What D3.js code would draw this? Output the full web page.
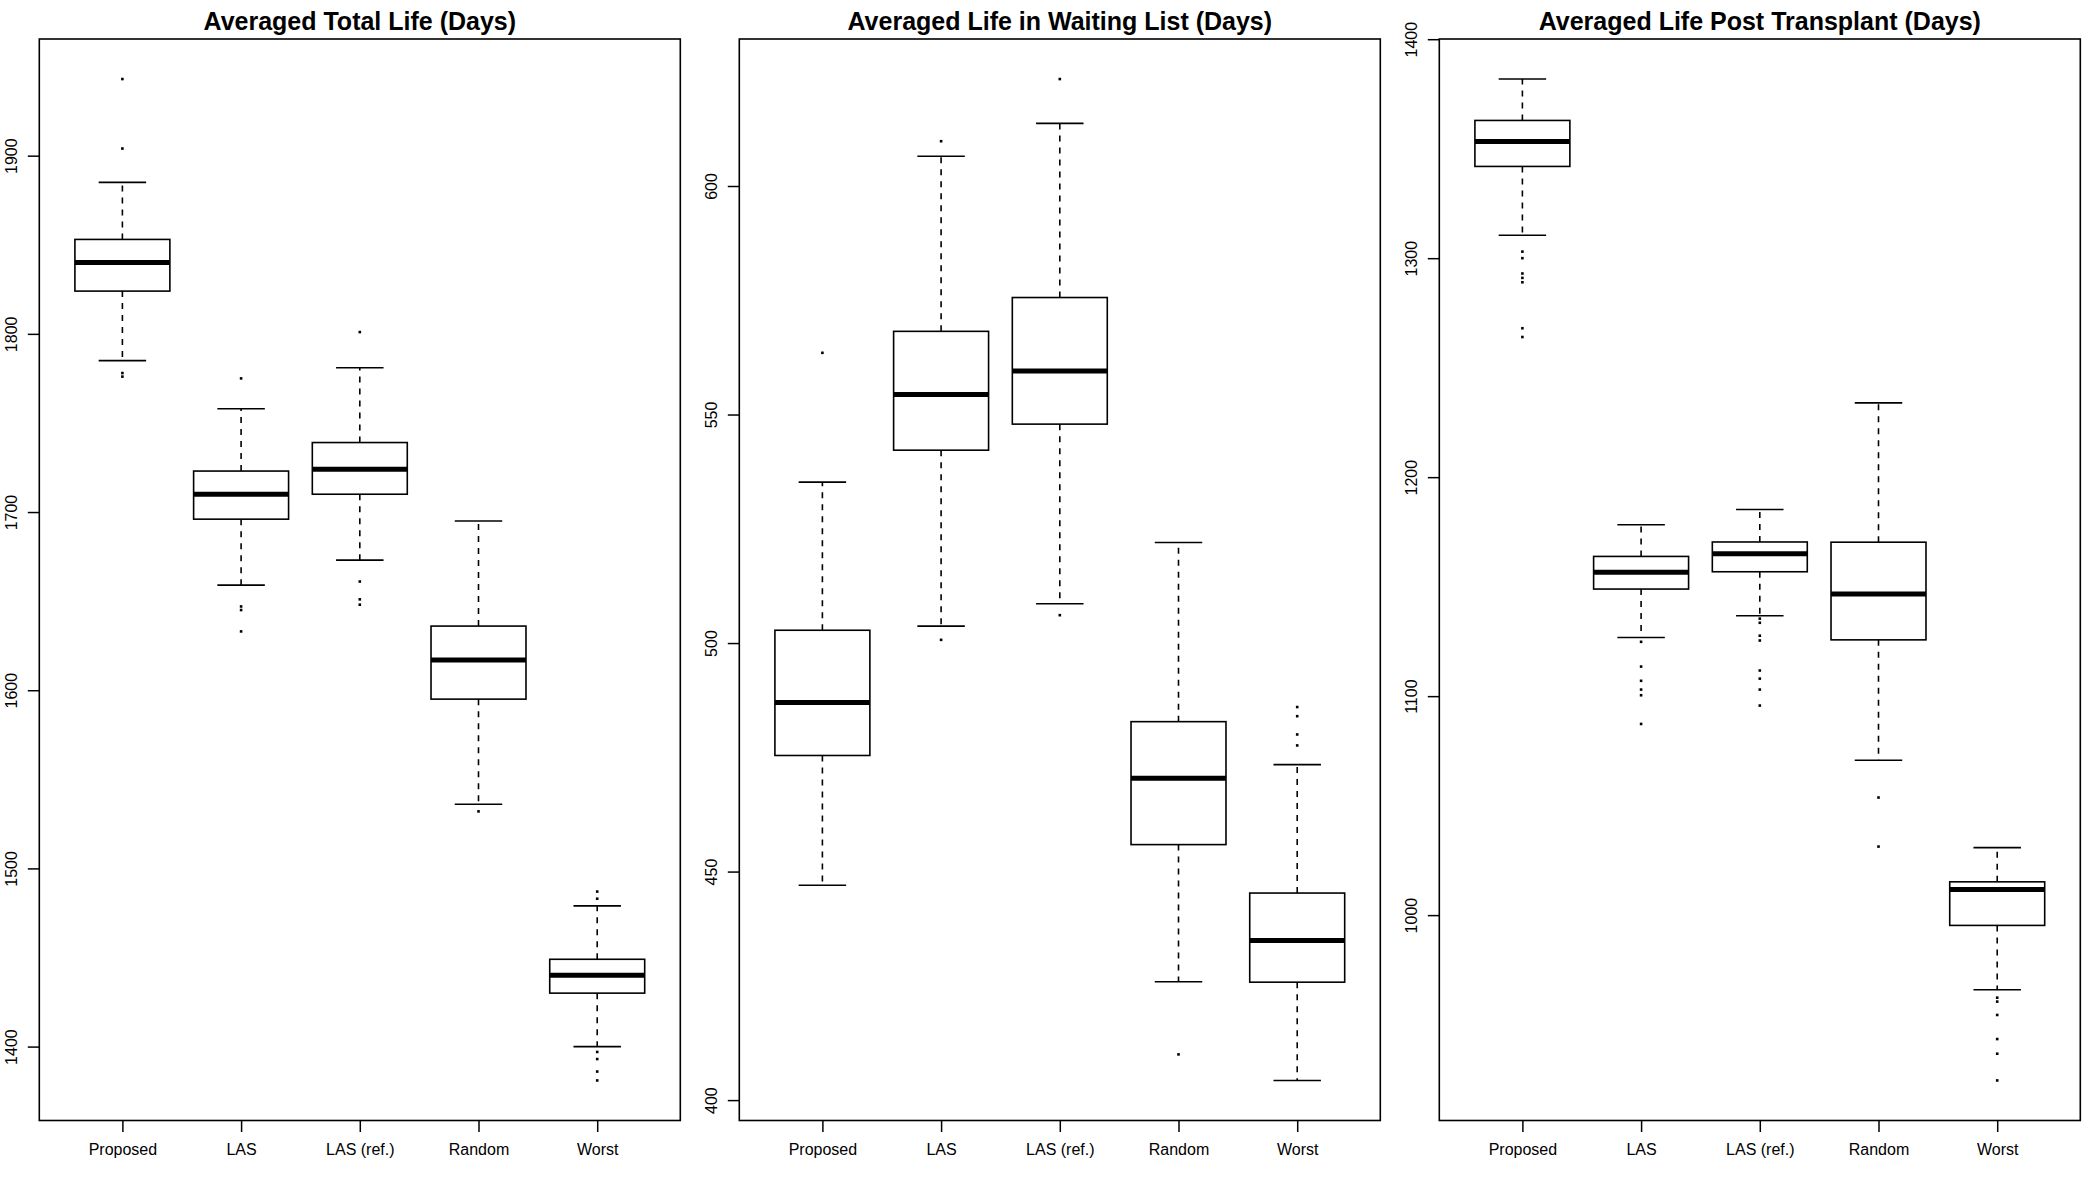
<!DOCTYPE html>
<html>
<head>
<meta charset="utf-8">
<script src="https://cdn.jsdelivr.net/npm/d3@7"></script>
<style>
  body { margin: 0; background: #fff; }
  svg { display: block; font-family: "Liberation Sans", Arial, Helvetica, sans-serif; }
</style>
</head>
<body>
<svg id="chart" width="2100" height="1200"></svg>
<script>
// categories shared by the three panels
const categories = ["Proposed", "LAS", "LAS (ref.)", "Random", "Worst"];
const titles = [
  "Averaged Total Life (Days)",
  "Averaged Life in Waiting List (Days)",
  "Averaged Life Post Transplant (Days)"
];

// box stats: [lower whisker, Q1, median, Q3, upper whisker]
const totalLifeStats = [
  [1785, 1824, 1840, 1853, 1885],
  [1659, 1696, 1710, 1723, 1758],
  [1673, 1710, 1724, 1739, 1781],
  [1536, 1595, 1617, 1636, 1695],
  [1400, 1430, 1440, 1449, 1479]
];
const totalLifeOutliers = [
  [1943, 1904, 1778, 1776],
  [1775, 1647, 1645, 1633],
  [1801, 1661, 1651, 1648],
  [1532],
  [1487, 1483, 1397, 1393, 1386, 1381]
];
const totalLifeTicks = [1400, 1500, 1600, 1700, 1800, 1900];

const waitingStats = [
  [447, 475.4, 487, 502.8, 535.2],
  [503.7, 542.2, 554.4, 568.2, 606.5],
  [508.6, 547.9, 559.5, 575.6, 613.7],
  [425.9, 455.9, 470.4, 482.8, 522],
  [404.3, 425.8, 434.9, 445.3, 473.4]
];
const waitingOutliers = [
  [563.5],
  [609.8, 500.7],
  [623.4, 506.1],
  [410],
  [486, 484, 480, 477.6]
];
const waitingTicks = [400, 450, 500, 550, 600];

const postStats = [
  [1310.5, 1341.9, 1353.3, 1362.9, 1381.8],
  [1126.8, 1148.9, 1156.6, 1163.8, 1178.3],
  [1136.7, 1156.8, 1165, 1170.4, 1185.2],
  [1070.7, 1125.7, 1146.6, 1170.3, 1233.9],
  [965.9, 995.3, 1011.7, 1015.2, 1030.8]
];
const postOutliers = [
  [1303, 1300, 1293, 1291, 1289, 1268, 1264],
  [1124.8, 1113.5, 1107, 1103, 1100.4, 1087.3],
  [1135.4, 1133.5, 1127.6, 1125.4, 1111.7, 1108, 1103, 1095.7],
  [1053.7, 1031.3],
  [962.3, 960.5, 954.4, 943.4, 936.7, 924.5]
];
const postTicks = [1000, 1100, 1200, 1300, 1400];

const panels = [
  { title: titles[0], stats: totalLifeStats, outliers: totalLifeOutliers, ticks: totalLifeTicks },
  { title: titles[1], stats: waitingStats, outliers: waitingOutliers, ticks: waitingTicks },
  { title: titles[2], stats: postStats, outliers: postOutliers, ticks: postTicks }
];

const svg = d3.select("#chart");
const plotTop = 39, plotBottom = 1120.5, plotW = 641, panelStep = 700, left0 = 39.3;

panels.forEach((p, pi) => {
  const x0 = left0 + pi * panelStep;
  const g = svg.append("g");

  // R style: extend data range by 4% on each side
  const all = p.stats.flat().concat(p.outliers.flat());
  const lo = d3.min(all), hi = d3.max(all), pad = (hi - lo) * 0.04;
  const y = d3.scaleLinear().domain([lo - pad, hi + pad]).range([plotBottom, plotTop]);
  const x = d3.scaleLinear().domain([0.3, categories.length + 0.7]).range([x0, x0 + plotW]);

  // frame
  g.append("rect")
    .attr("x", x0).attr("y", plotTop)
    .attr("width", plotW).attr("height", plotBottom - plotTop)
    .attr("fill", "none").attr("stroke", "#000").attr("stroke-width", 1.6);

  g.append("text")
    .attr("x", x0 + plotW / 2).attr("y", 30)
    .attr("text-anchor", "middle")
    .attr("font-size", 25).attr("font-weight", "bold")
    .text(p.title);

  // y axis
  const ya = g.append("g")
    .attr("transform", `translate(${x0},0)`)
    .call(d3.axisLeft(y).tickValues(p.ticks).tickSize(11.5).tickFormat(d3.format("d")));
  ya.select(".domain").remove();
  ya.selectAll("line").attr("stroke-width", 1.5);
  ya.selectAll("text")
    .attr("transform", "rotate(-90)")
    .attr("x", 0).attr("y", -22.3).attr("dy", null)
    .attr("text-anchor", "middle")
    .attr("font-size", 16).attr("fill", "#000");
  ya.attr("font-family", null).attr("font-size", null);

  // x axis
  const xa = g.append("g")
    .attr("transform", `translate(0,${plotBottom})`)
    .call(d3.axisBottom(x).tickValues(d3.range(1, categories.length + 1))
      .tickSize(11.5).tickPadding(11.5).tickFormat(i => categories[i - 1]));
  xa.select(".domain").remove();
  xa.selectAll("line").attr("stroke-width", 1.5);
  xa.selectAll("text").attr("font-size", 16).attr("fill", "#000");
  xa.attr("font-family", null).attr("font-size", null);

  const boxes = g.selectAll(".box").data(p.stats).join("g").attr("class", "box");
  const cx = (d, i) => x(i + 1);

  // dashed whiskers
  boxes.append("line")
    .attr("x1", cx).attr("x2", cx)
    .attr("y1", d => y(d[3])).attr("y2", d => y(d[4]))
    .attr("stroke", "#000").attr("stroke-width", 1.6).attr("stroke-dasharray", "6,6");
  boxes.append("line")
    .attr("x1", cx).attr("x2", cx)
    .attr("y1", d => y(d[1])).attr("y2", d => y(d[0]))
    .attr("stroke", "#000").attr("stroke-width", 1.6).attr("stroke-dasharray", "6,6");

  // whisker caps
  [0, 4].forEach(k => {
    boxes.append("line")
      .attr("x1", (d, i) => x(i + 1 - 0.2)).attr("x2", (d, i) => x(i + 1 + 0.2))
      .attr("y1", d => y(d[k])).attr("y2", d => y(d[k]))
      .attr("stroke", "#000").attr("stroke-width", 1.6);
  });

  // box
  boxes.append("rect")
    .attr("x", (d, i) => x(i + 1 - 0.4))
    .attr("width", x(1.4) - x(0.6))
    .attr("y", d => y(d[3]))
    .attr("height", d => y(d[1]) - y(d[3]))
    .attr("fill", "#fff").attr("stroke", "#000").attr("stroke-width", 1.6);

  // median
  boxes.append("line")
    .attr("x1", (d, i) => x(i + 1 - 0.4)).attr("x2", (d, i) => x(i + 1 + 0.4))
    .attr("y1", d => y(d[2])).attr("y2", d => y(d[2]))
    .attr("stroke", "#000").attr("stroke-width", 5);

  // outliers as small dots
  const pts = p.outliers.flatMap((arr, i) => arr.map(v => ({ i, v })));
  g.selectAll(".out").data(pts).join("rect")
    .attr("class", "out")
    .attr("x", d => x(d.i + 1) - 1.3).attr("y", d => y(d.v) - 1.3)
    .attr("width", 2.6).attr("height", 2.6)
    .attr("fill", "#000");
});
</script>
</body>
</html>
